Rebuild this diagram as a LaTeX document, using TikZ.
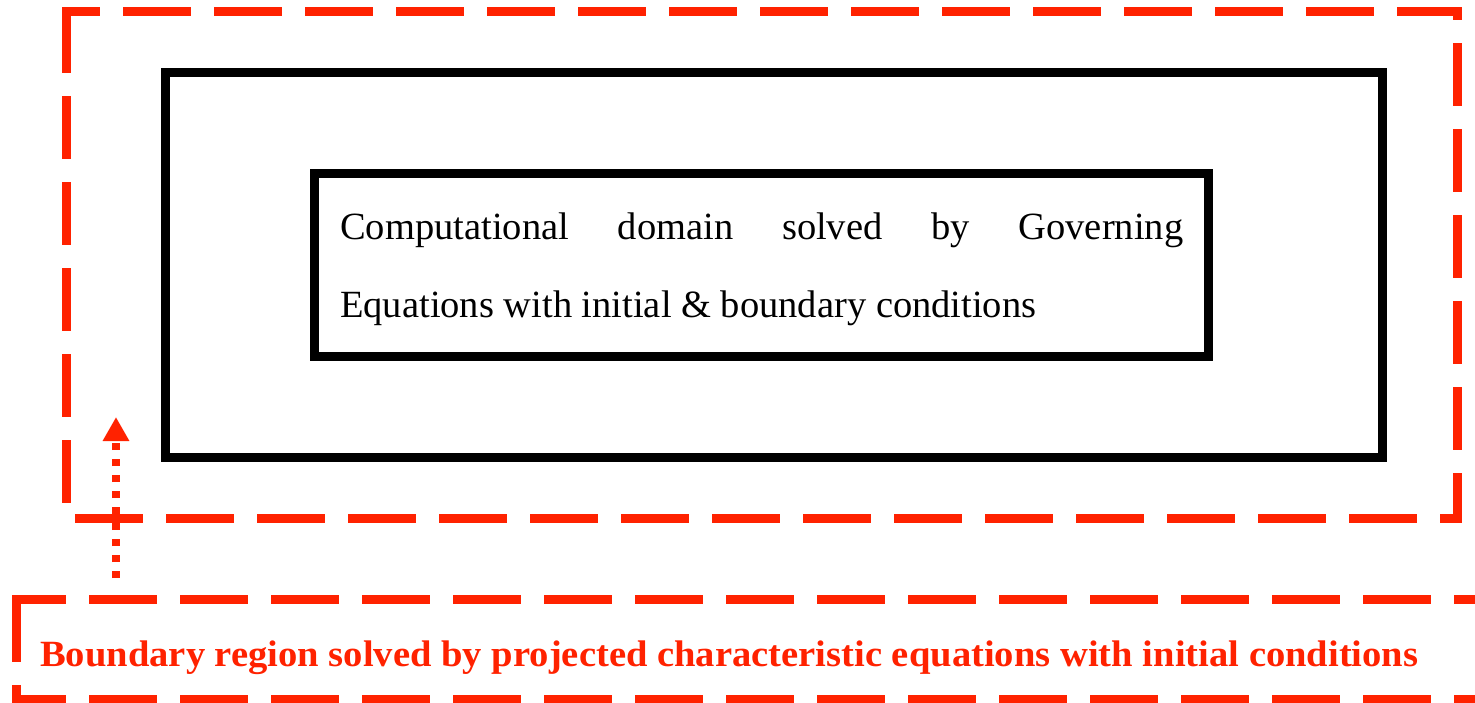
\documentclass[tikz,border=0pt]{standalone}
\usepackage{fontspec}
\setmainfont{Liberation Serif}
\usetikzlibrary{arrows.meta}
\definecolor{alertred}{RGB}{255,34,0}
\tikzset{
  x=1pt, y=-1pt,
  region/.style={inner sep=0pt, outer sep=0pt},
  blackbox/.style={region, draw=black, line width=9pt},
  % each dashed side is its own path; rect caps make the dashes meet in the corners
  redside/.style={draw=alertred, line width=9pt, line cap=rect},
  hdash/.style={redside, dash pattern=on 59pt off 32pt},
  vdash/.style={redside, dash pattern=on 54pt off 32pt},
  bodytext/.style={anchor=base west, inner sep=0pt, font=\fontsize{38.5}{46}\selectfont},
  redtext/.style={anchor=base west, inner sep=0pt, text=alertred,
    font=\fontsize{37}{44}\selectfont\bfseries},
  dotarrow/.style={draw=alertred, line width=8pt, dash pattern=on 7pt off 9pt,
    -{Triangle[width=25pt,length=24pt]}}
}
\begin{document}
\begin{tikzpicture}
\useasboundingbox[fill=white] (0,0) rectangle (1475,703);
% outer region (dashed) and the nested domain boxes
\node[region, minimum width=1391pt, minimum height=506pt] (field) at (761.5,265) {};
\draw[hdash, dash phase=29.5pt] (field.north west) -- (field.north east);
\draw[vdash, dash phase=50.5pt] (field.north east) -- (field.south east);
\draw[hdash, dash phase=46.5pt] (field.south east) -- (field.south west);
\draw[vdash, dash phase=66.5pt] (field.south west) -- (field.north west);
\node[blackbox, minimum width=1217pt, minimum height=384.5pt] (frame) at (774,264.75) {};
\node[blackbox, minimum width=894.5pt, minimum height=182.5pt] (domain) at (761.25,264.75) {};
\node[bodytext] (line1) at (340,240)
  {\makebox[843pt][s]{Computational domain solved by Governing}};
\node[bodytext] (line2) at (340,318) {Equations with initial \& boundary conditions};
% boundary strip along the bottom, running off the right edge
\node[region, minimum width=1473.5pt, minimum height=99.5pt] (boundary) at (753.25,649.25) {};
\draw[hdash, dash phase=14pt] (boundary.north west) -- (boundary.north east);
\draw[hdash, dash phase=14pt] (boundary.south west) -- (boundary.south east);
\draw[vdash, dash phase=82pt] (boundary.north west) -- (boundary.south west);
\draw[vdash, dash phase=82pt] (boundary.north east) -- (boundary.south east);
\node[redtext] (blabel) at (40,666)
  {\scalebox{1.043}[1]{Boundary region solved by projected characteristic equations with initial conditions}};
% dotted arrow from the strip up into the outer region
\coordinate (foot) at (116,578);
\coordinate (tip) at (116,417);
\draw[dotarrow] (foot) -- (tip);
\end{tikzpicture}
\end{document}
